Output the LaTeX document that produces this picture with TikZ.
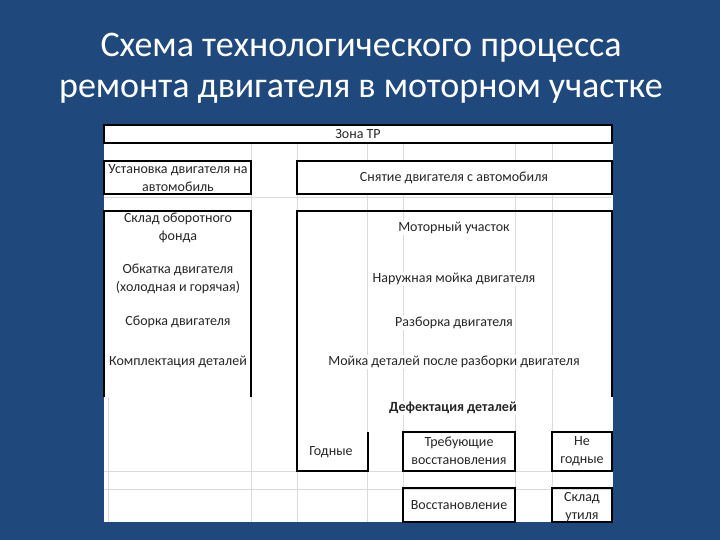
\documentclass[tikz,border=0pt]{standalone}
\usepackage{fontspec}
\setmainfont{Carlito}
\definecolor{bg}{RGB}{31,73,125}
\definecolor{gridc}{RGB}{218,218,218}
\tikzset{
  cell/.style={font=\fontsize{14}{18}\selectfont, align=center, inner sep=1pt, fill=white, text=black!85},
  edge/.style={draw=black, line width=1.1pt},
  gl/.style={draw=gridc, line width=0.8pt},
  ttl/.style={font=\fontsize{36}{40}\selectfont, text=white}
}
\begin{document}
\begin{tikzpicture}[x=1pt,y=-1pt]
\fill[bg] (0,0) rectangle (720,540);
\useasboundingbox (0,0) rectangle (720,540);
\node[ttl] (t1) at (361,48) {Схема технологического процесса};
\node[ttl] (t2) at (361,92) {ремонта двигателя в моторном участке};
\fill[white] (104,125) rectangle (613,522);
% grid
\foreach \x in {367,403,515,552} \draw[gl] (\x,143) -- (\x,161) (\x,194) -- (\x,522);
\foreach \x in {251,297} \draw[gl] (\x,143) -- (\x,522);
\draw[gl] (108,397) -- (108,522);
\foreach \y in {471,489} \draw[gl] (104,\y) -- (612,\y);
\draw[gl] (104,197) -- (612,197);
% black borders
\draw[edge] (104,125) rectangle (612,143);
\draw[edge] (104,161) rectangle (251,194);
\draw[edge] (297,161) rectangle (612,194);
\draw[edge] (104,397) -- (104,211) -- (251,211) -- (251,397);
\draw[edge] (368,432) -- (368,471) -- (297,471) -- (297,211) -- (612,211) -- (612,397);
\draw[edge] (403,432) rectangle (515,471);
\draw[edge] (552,432) rectangle (612,471);
\draw[edge] (403,488) rectangle (515,522);
\draw[edge] (552,488) rectangle (612,522);
% texts
\node[cell] (zona) at (358,134) {Зона ТР};
\node[cell] (ust) at (178,178) {Установка двигателя на\\автомобиль};
\node[cell] (snyat) at (454,178) {Снятие двигателя с автомобиля};
\node[cell] (sklad) at (178,228) {Склад оборотного\\фонда};
\node[cell] (motor) at (454,228) {Моторный участок};
\node[cell] (obk) at (178,279) {Обкатка двигателя\\(холодная и горячая)};
\node[cell] (nar) at (454,279) {Наружная мойка двигателя};
\node[cell] (sbor) at (178,322) {Сборка двигателя};
\node[cell] (razb) at (454,323) {Разборка двигателя};
\node[cell] (kompl) at (178,362) {Комплектация деталей};
\node[cell] (moyka) at (454,362) {Мойка деталей после разборки двигателя};
\node[cell, font=\fontsize{14}{18}\selectfont\bfseries] (def) at (453,408) {Дефектация деталей};
\node[cell] (god) at (331,452) {Годные};
\node[cell] (treb) at (459,451) {Требующие\\восстановления};
\node[cell] (negod) at (582,451) {Не\\годные};
\node[cell] (vosst) at (459,505) {Восстановление};
\begin{scope}
\clip (552,488) rectangle (612,522);
\node[cell, fill=none] (util) at (582,507) {Склад\\утиля};
\end{scope}
\end{tikzpicture}
\end{document}
